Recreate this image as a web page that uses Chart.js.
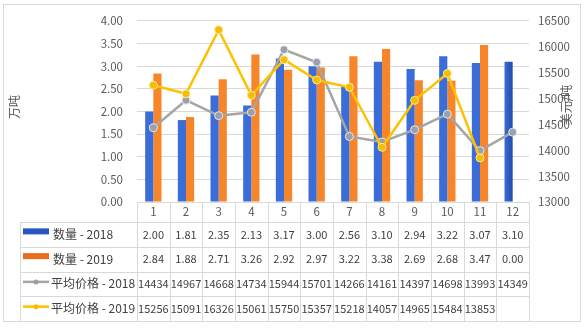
<!DOCTYPE html>
<html>
<head>
<meta charset="utf-8">
<script src="https://cdn.jsdelivr.net/npm/chart.js@4.4.1/dist/chart.umd.min.js"></script>
<style>
  html, body { margin: 0; padding: 0; background: #fff; }
  #wrap { width: 584px; height: 328px; }
</style>
</head>
<body>
<div id="wrap"><canvas id="chart" width="584" height="328"></canvas></div>
<script>
const months = ['1', '2', '3', '4', '5', '6', '7', '8', '9', '10', '11', '12'];
const qty2018 = [2.00, 1.81, 2.35, 2.13, 3.17, 3.00, 2.56, 3.10, 2.94, 3.22, 3.07, 3.10];
const qty2019 = [2.84, 1.88, 2.71, 3.26, 2.92, 2.97, 3.22, 3.38, 2.69, 2.68, 3.47, 0.00];
const price2018 = [14434, 14967, 14668, 14734, 15944, 15701, 14266, 14161, 14397, 14698, 13993, 14349];
const price2019 = [15256, 15091, 16326, 15061, 15750, 15357, 15218, 14057, 14965, 15484, 13853, null];

const qtyAxis = { min: 0, max: 4, step: 0.5 };
const priceAxis = { min: 13000, max: 16500, step: 500 };

const FONT = '"Noto Sans CJK SC", "Noto Sans", sans-serif';
const GRID = '#d9d9d9';

// left-to-right shading on each bar
const barShade = {
  id: 'barShade',
  beforeDatasetsDraw(chart) {
    const ctx = chart.ctx;
    chart.getSortedVisibleDatasetMetas().forEach((meta) => {
      if (meta.type !== 'bar') return;
      const ds = chart.data.datasets[meta.index];
      meta.data.forEach((el) => {
        const { x, width } = el.getProps(['x', 'width'], true);
        const g = ctx.createLinearGradient(x - width / 2, 0, x + width / 2, 0);
        g.addColorStop(0, ds.shade[0]);
        g.addColorStop(1, ds.shade[1]);
        el.options.backgroundColor = g;
      });
    });
  }
};

// data table under the plot, one row per dataset
const dataTable = {
  id: 'dataTable',
  afterDraw(chart) {
    const ctx = chart.ctx;
    const area = chart.chartArea;
    const xs = chart.scales.x;
    const colW = (area.right - area.left) / months.length;
    const tableLeft = 20;
    const headBottom = area.bottom + 20;
    const rowH = 24.75;
    const sets = chart.data.datasets;
    const tableBottom = headBottom + rowH * sets.length;

    ctx.save();
    ctx.strokeStyle = GRID;
    ctx.lineWidth = 1;

    // horizontal rules
    for (let r = 0; r <= sets.length; r++) {
      const y = Math.round(headBottom + r * rowH) + 0.5;
      ctx.beginPath();
      ctx.moveTo(tableLeft, y);
      ctx.lineTo(area.right, y);
      ctx.stroke();
    }
    // vertical rules
    ctx.beginPath();
    ctx.moveTo(tableLeft + 0.5, headBottom);
    ctx.lineTo(tableLeft + 0.5, tableBottom);
    ctx.stroke();
    for (let c = 0; c <= months.length; c++) {
      const x = Math.round(area.left + c * colW) + 0.5;
      ctx.beginPath();
      ctx.moveTo(x, area.bottom);
      ctx.lineTo(x, tableBottom);
      ctx.stroke();
    }

    // month header
    ctx.fillStyle = '#595959';
    ctx.font = '11.5px ' + FONT;
    ctx.textAlign = 'center';
    ctx.textBaseline = 'middle';
    months.forEach((m, i) => {
      ctx.fillText(m, xs.getPixelForValue(i), area.bottom + 10);
    });

    // rows
    sets.forEach((ds, r) => {
      const cy = headBottom + r * rowH + rowH / 2;
      // legend key
      if (ds.type === 'line') {
        ctx.strokeStyle = ds.borderColor;
        ctx.lineWidth = 2.5;
        ctx.beginPath();
        ctx.moveTo(23, cy - 2);
        ctx.lineTo(49, cy - 2);
        ctx.stroke();
        ctx.fillStyle = ds.pointBackgroundColor;
        ctx.beginPath();
        ctx.arc(36, cy - 2, 2.5, 0, Math.PI * 2);
        ctx.fill();
      } else {
        ctx.fillStyle = ds.backgroundColor;
        ctx.fillRect(23, cy - 6, 26, 6);
      }
      ctx.fillStyle = '#404040';
      ctx.font = '12px ' + FONT;
      ctx.textAlign = 'left';
      ctx.fillText(ds.label, ds.type === 'line' ? 51 : 53, cy);

      ctx.font = '11px ' + FONT;
      ctx.textAlign = 'center';
      ds.data.forEach((v, i) => {
        if (v === null) return;
        const txt = ds.yAxisID === 'y' ? v.toFixed(2) : String(v);
        ctx.fillText(txt, xs.getPixelForValue(i), cy);
      });
    });

    // axis titles
    ctx.fillStyle = '#595959';
    ctx.font = '12px ' + FONT;
    ctx.textAlign = 'center';
    ctx.save();
    ctx.translate(14, 107);
    ctx.rotate(-Math.PI / 2);
    ctx.fillText('万吨', 0, 0);
    ctx.restore();
    ctx.save();
    ctx.translate(566, 105);
    ctx.rotate(-Math.PI / 2);
    ctx.fillText('美元/吨', 0, 0);
    ctx.restore();

    // outer frame
    ctx.strokeStyle = GRID;
    ctx.lineWidth = 1;
    ctx.strokeRect(3.5, 4.5, 577, 317);
    ctx.restore();
  }
};

const ctxt = document.getElementById('chart').getContext('2d');

// order: lines on top (yellow above grey), bars blue then orange
const myChart = new Chart(ctxt, {
  data: {
    labels: months,
    datasets: [
      {
        type: 'bar',
        label: '数量 - 2018',
        data: qty2018,
        yAxisID: 'y',
        backgroundColor: '#2756BE',
        shade: ['#3B6DD8', '#1F4CAC'],
        categoryPercentage: 0.5,
        barPercentage: 1.0,
        order: 2
      },
      {
        type: 'bar',
        label: '数量 - 2019',
        data: qty2019,
        yAxisID: 'y',
        backgroundColor: '#E86E1E',
        shade: ['#F7852A', '#D6600F'],
        categoryPercentage: 0.5,
        barPercentage: 1.0,
        order: 3
      },
      {
        type: 'line',
        label: '平均价格 - 2018',
        data: price2018,
        yAxisID: 'y2',
        borderColor: '#A5A5A5',
        borderWidth: 2.5,
        pointRadius: 4,
        pointBorderWidth: 1,
        pointBackgroundColor: '#9AA0AE',
        pointBorderColor: '#E6E6E6',
        tension: 0,
        order: 1
      },
      {
        type: 'line',
        label: '平均价格 - 2019',
        data: price2019,
        yAxisID: 'y2',
        borderColor: '#FFC000',
        borderWidth: 2.5,
        pointRadius: 4,
        pointBorderWidth: 1,
        pointBackgroundColor: '#F2C000',
        pointBorderColor: '#FFE699',
        tension: 0,
        spanGaps: false,
        order: 0
      }
    ]
  },
  options: {
    responsive: false,
    animation: false,
    layout: { padding: { top: 10, bottom: 126, left: 0, right: 0 } },
    plugins: {
      legend: { display: false },
      tooltip: { enabled: false }
    },
    scales: {
      x: {
        display: false
      },
      y: {
        position: 'left',
        min: qtyAxis.min,
        max: qtyAxis.max,
        afterFit: (scale) => { scale.width = 137; },
        ticks: {
          stepSize: qtyAxis.step,
          padding: 14,
          color: '#595959',
          font: { family: FONT, size: 11.5 },
          callback: (v) => Number(v).toFixed(2)
        },
        grid: { color: GRID, drawTicks: false },
        border: { display: false }
      },
      y2: {
        position: 'right',
        min: priceAxis.min,
        max: priceAxis.max,
        afterFit: (scale) => { scale.width = 55; },
        ticks: {
          stepSize: priceAxis.step,
          padding: 9,
          color: '#595959',
          font: { family: FONT, size: 11.5 },
          callback: (v) => String(v)
        },
        grid: { display: false, drawTicks: false },
        border: { display: false }
      }
    }
  },
  plugins: [barShade, dataTable]
});
</script>
</body>
</html>
